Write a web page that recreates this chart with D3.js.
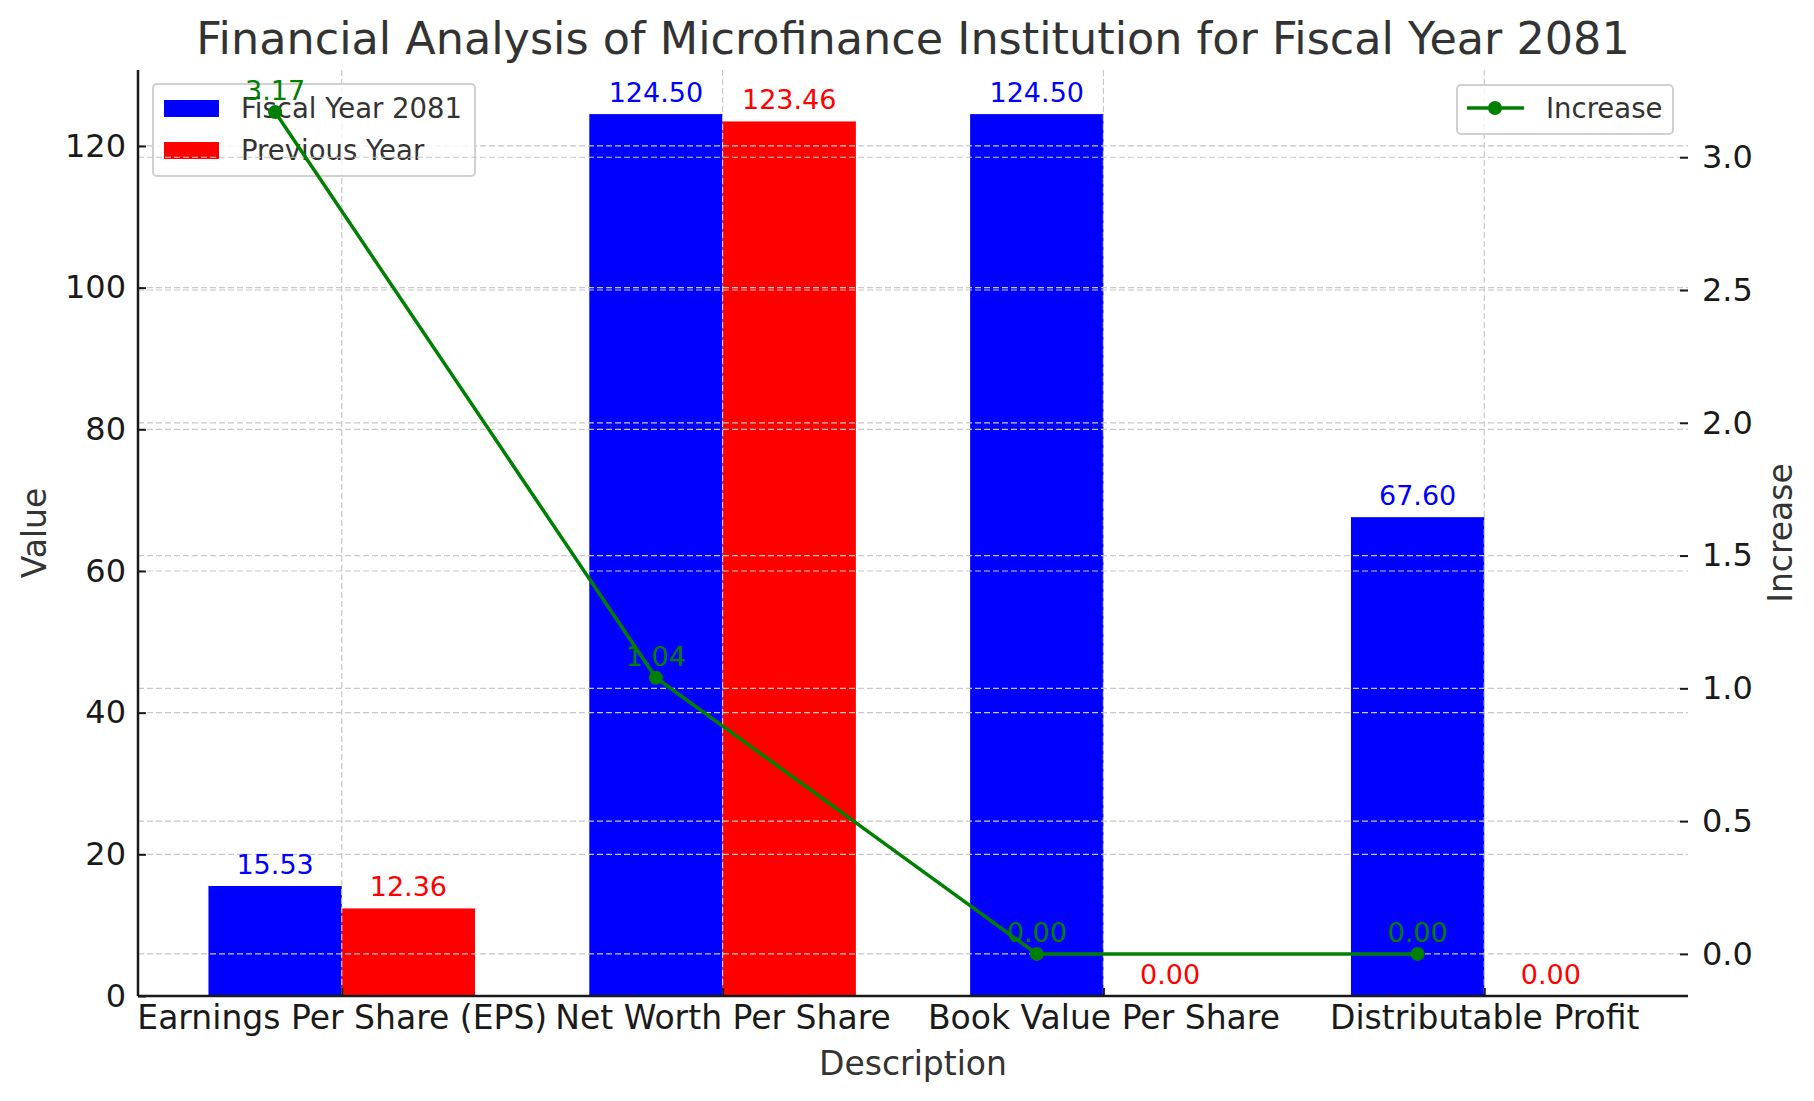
<!DOCTYPE html>
<html>
<head>
<meta charset="utf-8">
<script src="https://cdn.jsdelivr.net/npm/d3@7"></script>
<style>
  body { margin: 0; background: #fff; }
  text { font-family: "DejaVu Sans", sans-serif; }
</style>
</head>
<body>
<svg id="chart" width="1814" height="1101"></svg>
<script>
const categories = ["Earnings Per Share (EPS)", "Net Worth Per Share", "Book Value Per Share", "Distributable Profit"];
const fiscal2081 = [15.53, 124.50, 124.50, 67.60];
const previousYear = [12.36, 123.46, 0, 0];
const increase = [3.17, 1.04, 0, 0];
const leftTicks = [0, 20, 40, 60, 80, 100, 120];
const rightTicks = [0, 0.5, 1.0, 1.5, 2.0, 2.5, 3.0];

const plotL = 138, plotR = 1688, plotT = 70, plotB = 996;
const barW = 0.35;

const svg = d3.select("#chart");

const x = d3.scaleLinear().domain([-0.535, 3.535]).range([plotL, plotR]);
const y = d3.scaleLinear().domain([0, 130.725]).range([plotB, plotT]);
const y2 = d3.scaleLinear().domain([-0.1585, 3.3285]).range([plotB, plotT]);

const gridColor = "#c8c8c8";
const labelSize = 27;

// ---- ax1 ----
const ax1 = svg.append("g");

// bars
ax1.selectAll(".b1").data(fiscal2081).join("rect")
  .attr("x", (d, i) => x(i - barW))
  .attr("width", x(barW) - x(0))
  .attr("y", d => y(d))
  .attr("height", d => y(0) - y(d))
  .attr("fill", "#0000ff");

ax1.selectAll(".b2").data(previousYear).join("rect")
  .attr("x", (d, i) => x(i))
  .attr("width", x(barW) - x(0))
  .attr("y", d => y(d))
  .attr("height", d => y(0) - y(d))
  .attr("fill", "#ff0000");

// grid (x + left y)
ax1.selectAll(".gx").data(categories).join("line")
  .attr("x1", (d, i) => x(i)).attr("x2", (d, i) => x(i))
  .attr("y1", plotT).attr("y2", plotB)
  .attr("stroke", gridColor).attr("stroke-width", 1.2).attr("stroke-dasharray", "6,3");
ax1.selectAll(".gy").data(leftTicks).join("line")
  .attr("x1", plotL).attr("x2", plotR)
  .attr("y1", d => y(d)).attr("y2", d => y(d))
  .attr("stroke", gridColor).attr("stroke-width", 1.2).attr("stroke-dasharray", "6,3");

// bar labels
ax1.selectAll(".l1").data(fiscal2081).join("text")
  .attr("x", (d, i) => x(i - barW / 2))
  .attr("y", d => y(d) - 12)
  .attr("text-anchor", "middle")
  .attr("font-size", labelSize)
  .attr("fill", "#0000ff")
  .text(d => d.toFixed(2));
ax1.selectAll(".l2").data(previousYear).join("text")
  .attr("x", (d, i) => x(i + barW / 2))
  .attr("y", d => y(d) - 12)
  .attr("text-anchor", "middle")
  .attr("font-size", labelSize)
  .attr("fill", "#ff0000")
  .text(d => d.toFixed(2));

// left legend
const lg1 = ax1.append("g");
lg1.append("rect").attr("x", 153).attr("y", 84).attr("width", 322).attr("height", 92)
  .attr("rx", 4).attr("fill", "#fff").attr("fill-opacity", 0.8)
  .attr("stroke", "#d0d0d0").attr("stroke-width", 2);
[["Fiscal Year 2081", "#0000ff"], ["Previous Year", "#ff0000"]].forEach((e, i) => {
  lg1.append("rect").attr("x", 164).attr("y", 100 + i * 42).attr("width", 55).attr("height", 17).attr("fill", e[1]);
  lg1.append("text").attr("x", 241).attr("y", 118 + i * 42).attr("font-size", 27.5).attr("fill", "#333").text(e[0]);
});

// ---- ax2 ----
const ax2 = svg.append("g");
ax2.selectAll(".gy2").data(rightTicks).join("line")
  .attr("x1", plotL).attr("x2", plotR)
  .attr("y1", d => y2(d)).attr("y2", d => y2(d))
  .attr("stroke", gridColor).attr("stroke-width", 1.2).attr("stroke-dasharray", "6,3");

const line = d3.line().x((d, i) => x(i - barW / 2)).y(d => y2(d));
ax2.append("path").datum(increase).attr("d", line)
  .attr("fill", "none").attr("stroke", "#008000").attr("stroke-width", 3.5);
ax2.selectAll(".pt").data(increase).join("circle")
  .attr("cx", (d, i) => x(i - barW / 2)).attr("cy", d => y2(d)).attr("r", 7).attr("fill", "#008000");
ax2.selectAll(".pl").data(increase).join("text")
  .attr("x", (d, i) => x(i - barW / 2))
  .attr("y", d => y2(d) - 12)
  .attr("text-anchor", "middle")
  .attr("font-size", labelSize)
  .attr("fill", "#008000")
  .text(d => d.toFixed(2));

// right legend
const lg2 = ax2.append("g");
lg2.append("rect").attr("x", 1457).attr("y", 85).attr("width", 216).attr("height", 49)
  .attr("rx", 4).attr("fill", "#fff").attr("fill-opacity", 0.8)
  .attr("stroke", "#d0d0d0").attr("stroke-width", 2);
lg2.append("line").attr("x1", 1467).attr("x2", 1524).attr("y1", 108).attr("y2", 108)
  .attr("stroke", "#008000").attr("stroke-width", 3.5);
lg2.append("circle").attr("cx", 1495).attr("cy", 108).attr("r", 7).attr("fill", "#008000");
lg2.append("text").attr("x", 1546).attr("y", 118).attr("font-size", 27.5).attr("fill", "#333").text("Increase");

// ---- axes ----
const axisColor = "#1a1a1a";
const yAxis = d3.axisLeft(y).tickValues(leftTicks).tickSize(-8).tickPadding(12).tickFormat(d3.format("d"));
const gy = svg.append("g").attr("transform", `translate(${plotL},0)`).call(yAxis);
const y2Axis = d3.axisRight(y2).tickValues(rightTicks).tickSize(-8).tickPadding(14).tickFormat(d3.format(".1f"));
const gy2 = svg.append("g").attr("transform", `translate(${plotR},0)`).call(y2Axis);
const xAxis = d3.axisBottom(x).tickValues([0, 1, 2, 3]).tickSize(-8).tickPadding(10).tickFormat(i => categories[i]);
const gx = svg.append("g").attr("transform", `translate(0,${plotB})`).call(xAxis);

[gy, gy2].forEach(g => {
  g.selectAll("text").attr("font-size", 32).attr("fill", axisColor).attr("font-family", "DejaVu Sans");
});
gx.selectAll("text").attr("font-size", 33).attr("fill", axisColor).attr("font-family", "DejaVu Sans");
[gy, gy2, gx].forEach(g => {
  g.selectAll(".tick line").attr("stroke", axisColor).attr("stroke-width", 2);
});
gy.select(".domain").attr("stroke", axisColor).attr("stroke-width", 2.5).attr("d", `M0,${plotT}V${plotB}`);
gx.select(".domain").attr("stroke", axisColor).attr("stroke-width", 2.5).attr("d", `M${plotL},0H${plotR}`);
gy2.select(".domain").remove();

// titles
svg.append("text").attr("x", (plotL + plotR) / 2).attr("y", 54).attr("text-anchor", "middle")
  .attr("font-size", 44.5).attr("fill", "#333").text("Financial Analysis of Microfinance Institution for Fiscal Year 2081");
svg.append("text").attr("x", (plotL + plotR) / 2).attr("y", 1075).attr("text-anchor", "middle")
  .attr("font-size", 33).attr("fill", "#333").text("Description");
svg.append("text").attr("transform", `translate(46,${(plotT + plotB) / 2}) rotate(-90)`).attr("text-anchor", "middle")
  .attr("font-size", 33).attr("fill", "#333").text("Value");
svg.append("text").attr("transform", `translate(1792,${(plotT + plotB) / 2}) rotate(-90)`).attr("text-anchor", "middle")
  .attr("font-size", 33).attr("fill", "#333").text("Increase");
</script>
</body>
</html>
